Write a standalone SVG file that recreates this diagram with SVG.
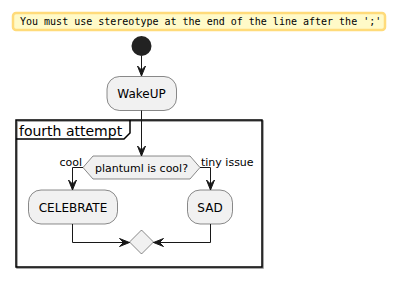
<svg xmlns="http://www.w3.org/2000/svg" width="401" height="285" viewBox="0 0 401 285">
<defs>
<style>
.box{fill:#F1F1F1;stroke:#181818;stroke-width:0.5}
.lbl{font-family:"DejaVu Sans",sans-serif;fill:#000}
.edge{fill:none;stroke:#181818;stroke-width:1}
.ah{fill:#181818;stroke:#181818;stroke-width:1}
</style>
</defs>
<rect width="401" height="285" fill="#FFFFFF"/>
<g id="note">
<rect x="13" y="13" width="372" height="17" rx="3" fill="#FFFAC8" stroke="#FFDB7A" stroke-width="2.5"/>
<text x="20" y="24.5" font-family="'DejaVu Sans Mono',monospace" font-size="10" fill="#000">You must use stereotype at the end of the line after the ';'</text>
</g>
<g id="partition">
<rect x="17" y="121" width="246" height="147" fill="none" stroke="#8a8a8a" stroke-width="1.5"/>
<rect x="16" y="120" width="246" height="147" fill="none" stroke="#000" stroke-width="1.5"/>
<path d="M16,139 L124,139 L130,133 L130,120" fill="none" stroke="#000" stroke-width="1.5"/>
<text class="lbl" x="19" y="136" font-size="14">fourth attempt</text>
</g>
<g id="start">
<circle cx="141.5" cy="46" r="10" fill="#222222"/>
</g>
<g id="wakeup">
<rect class="box" x="107" y="76.5" width="69.5" height="34" rx="12.5"/>
<text class="lbl" x="141.5" y="98" font-size="12" text-anchor="middle">WakeUP</text>
</g>
<g id="decision">
<polygon class="box" points="83,167.5 93,156 190,156 200,167.5 190,179 93,179"/>
<text class="lbl" x="141.5" y="172" font-size="11" text-anchor="middle">plantuml is cool?</text>
</g>
<g id="celebrate">
<rect class="box" x="28.5" y="190" width="89" height="34" rx="12.5"/>
<text class="lbl" x="73" y="212" font-size="12" text-anchor="middle">CELEBRATE</text>
</g>
<g id="sad">
<rect class="box" x="187.5" y="190" width="45" height="34" rx="12.5"/>
<text class="lbl" x="210" y="212" font-size="12" text-anchor="middle">SAD</text>
</g>
<g id="merge">
<polygon class="box" points="141.5,230 153.5,242 141.5,254 129.5,242"/>
</g>
<g id="connectors">
<path class="edge" d="M141.5,56 V76"/>
<polygon class="ah" points="141.5,76 137.5,66 141.5,70 145.5,66"/>
<path class="edge" d="M141.5,110.5 V156"/>
<polygon class="ah" points="141.5,156 137.5,146 141.5,150 145.5,146"/>
<path class="edge" d="M83,167.5 H72.5 V190"/>
<polygon class="ah" points="72.5,190 68.5,180 72.5,184 76.5,180"/>
<text class="lbl" x="82" y="166" font-size="11" text-anchor="end">cool</text>
<path class="edge" d="M200,167.5 H210.5 V190"/>
<polygon class="ah" points="210.5,190 206.5,180 210.5,184 214.5,180"/>
<text class="lbl" x="201" y="166" font-size="11">tiny issue</text>
<path class="edge" d="M72.5,224 V242.5 H129.5"/>
<polygon class="ah" points="129.5,242.5 119.5,238.5 123.5,242.5 119.5,246.5"/>
<path class="edge" d="M210.5,224 V242.5 H153.5"/>
<polygon class="ah" points="153.5,242.5 163.5,238.5 159.5,242.5 163.5,246.5"/>
</g>
</svg>
